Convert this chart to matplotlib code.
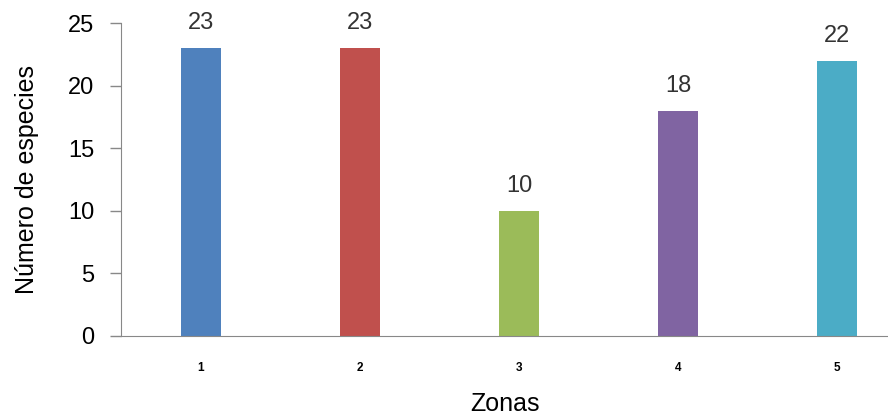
import matplotlib
matplotlib.use("Agg")
import matplotlib.pyplot as plt

zonas = ["1", "2", "3", "4", "5"]
especies = [23, 23, 10, 18, 22]
colores = ["#4F81BD", "#C0504D", "#9BBB59", "#8064A2", "#4BACC6"]
yticks = [0, 5, 10, 15, 20, 25]

plt.rcParams['font.family'] = ['Liberation Sans', 'DejaVu Sans']

fig = plt.figure(figsize=(8.88, 4.17), dpi=100)
ax = fig.add_axes([121/888, 81/417, 1 - 121/888, 313/417])

x = list(range(len(zonas)))
bars = ax.bar(x, especies, width=0.25, color=colores, zorder=2)
for xi, v in zip(x, especies):
    ax.annotate(str(v), (xi, v), xytext=(0, 10), textcoords="offset points",
                ha="center", va="bottom", fontsize=17, color="#333333")

ax.set_xlim(-0.503, 4.32)
ax.set_ylim(0, 25)
ax.set_yticks(yticks)
ax.set_xticks(x)
ax.set_xticklabels(zonas, fontsize=8.5, fontweight="bold")
ax.tick_params(axis="x", length=0, pad=19)
ax.tick_params(axis="y", length=8, width=1, color="#888888", labelsize=17, pad=11)

for s in ["top", "right"]:
    ax.spines[s].set_visible(False)
ax.spines["left"].set_color("#888888")
ax.spines["bottom"].set_color("#888888")

fig.text(27/888, (417 - 180)/417, "Número de especies", rotation=90,
         ha="center", va="center", fontsize=18)
fig.text(504.5/888, 1/417, "Zonas", ha="center", va="bottom", fontsize=18)

fig.savefig("out.png", dpi=100)
